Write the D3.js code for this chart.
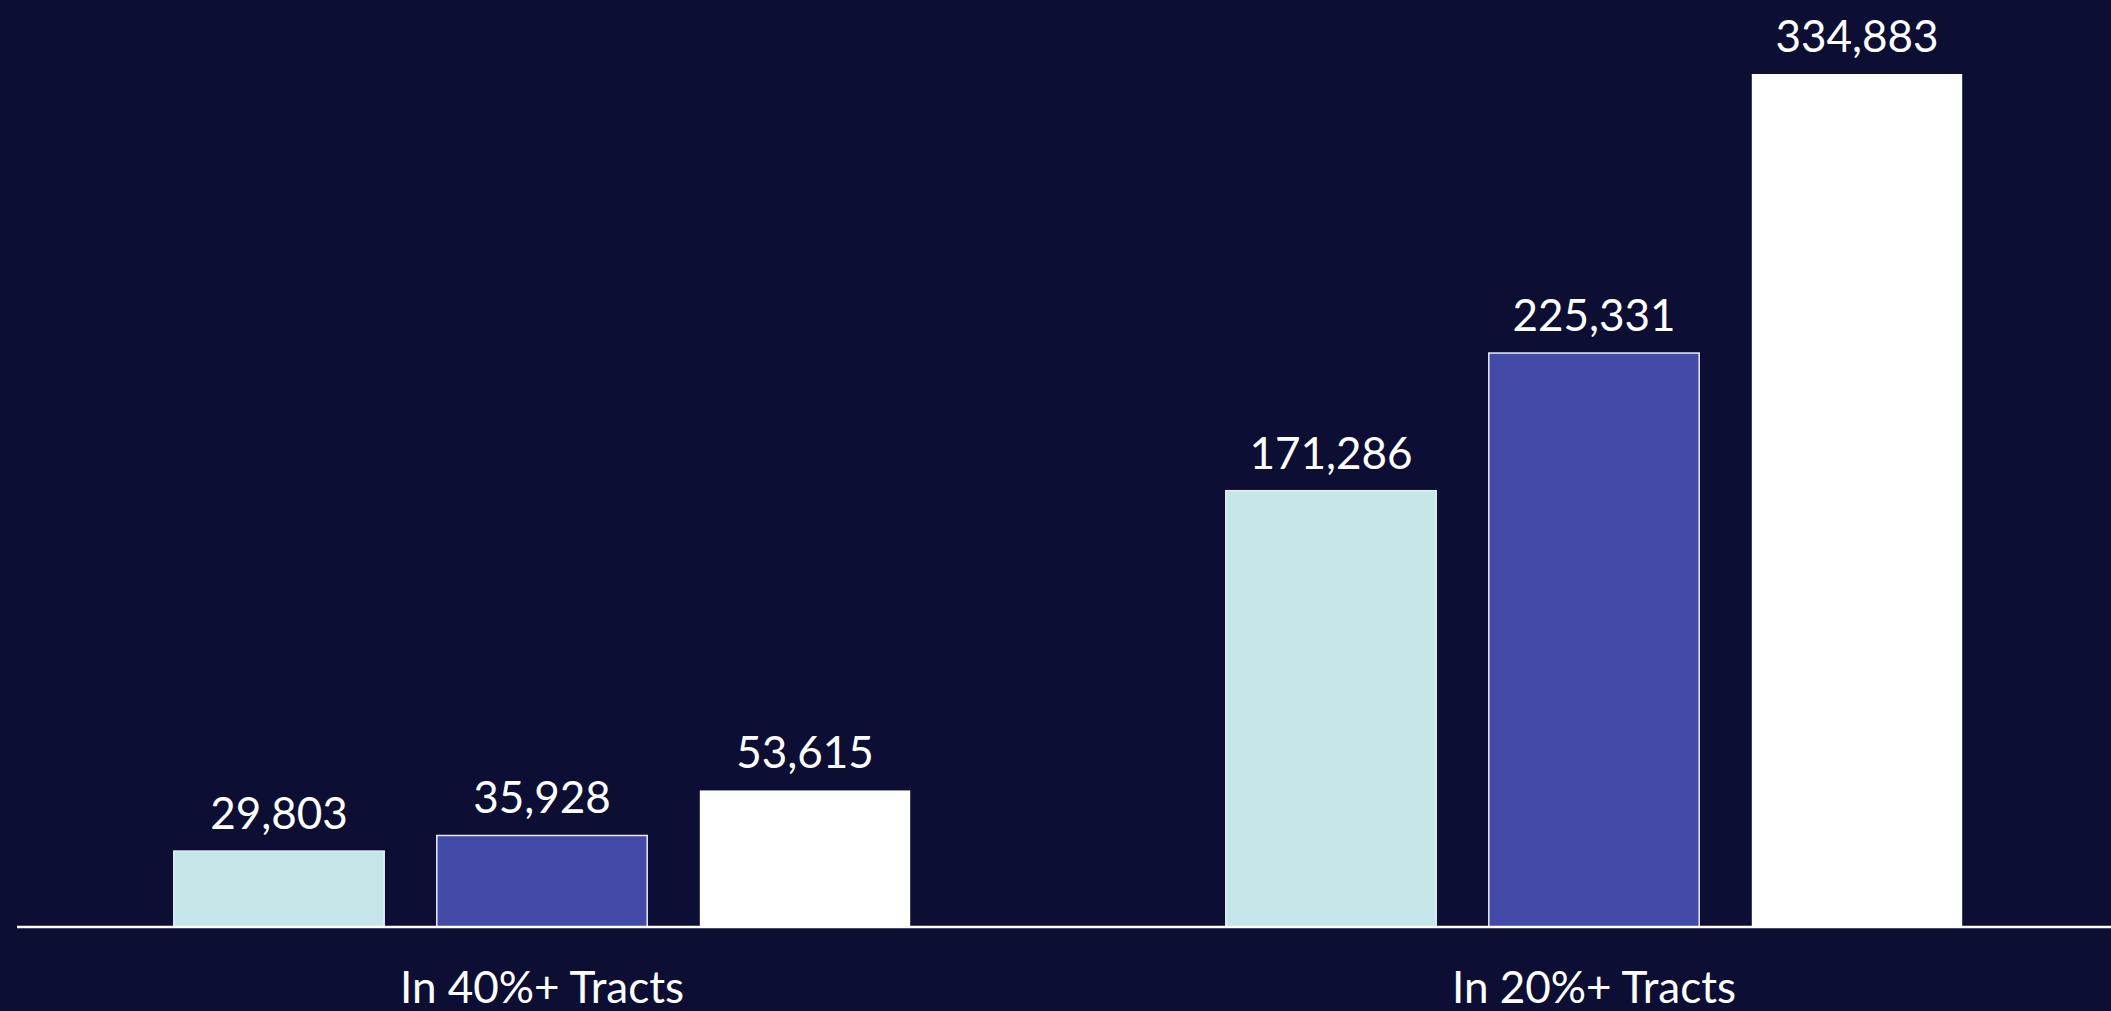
<!DOCTYPE html>
<html>
<head>
<meta charset="utf-8">
<script src="https://cdn.jsdelivr.net/npm/d3@7"></script>
<style>
  html, body { margin: 0; padding: 0; background: #0c0f33; overflow: hidden; }
  svg { display: block; }
</style>
</head>
<body>
<div id="chart"></div>
<script>
const categories = ['In 40%+ Tracts', 'In 20%+ Tracts']
const seriesKeys = ['first', 'second', 'third']
const firstValues = [29803, 171286]
const secondValues = [35928, 225331]
const thirdValues = [53615, 334883]
const seriesColors = ['#c4e6e8', '#434aa8', '#ffffff']

const width = 2111
const height = 1011
const baseline = 927

const values = [firstValues, secondValues, thirdValues]
const rows = categories.map((c, i) => ({
  category: c,
  bars: seriesKeys.map((k, j) => ({ key: k, value: values[j][i], color: seriesColors[j] }))
}))

const svg = d3.select('#chart').append('svg')
  .attr('width', width)
  .attr('height', height)

svg.append('rect')
  .attr('width', width)
  .attr('height', height)
  .attr('fill', '#0c0f33')

const x0 = d3.scaleBand()
  .domain(categories)
  .range([16, 2120])

const x1 = d3.scaleBand()
  .domain(seriesKeys)
  .range([0, x0.bandwidth()])
  .paddingInner(0.2)
  .paddingOuter(0.6)

const y = d3.scaleLinear()
  .domain([0, 334883])
  .range([baseline, 74])

const groups = svg.selectAll('.group')
  .data(rows)
  .enter()
  .append('g')
  .attr('class', 'group')
  .attr('transform', d => `translate(${x0(d.category)},0)`)

groups.selectAll('rect')
  .data(d => d.bars)
  .enter()
  .append('rect')
  .attr('x', d => x1(d.key))
  .attr('y', d => y(d.value))
  .attr('width', x1.bandwidth())
  .attr('height', d => baseline - y(d.value))
  .attr('fill', d => d.color)
  .attr('stroke', d => d.color === '#ffffff' ? 'none' : '#e6eef4')
  .attr('stroke-width', 1.5)

groups.selectAll('.valueLabel')
  .data(d => d.bars)
  .enter()
  .append('text')
  .attr('class', 'valueLabel')
  .attr('x', d => x1(d.key) + x1.bandwidth() / 2)
  .attr('y', d => y(d.value) - 22)
  .attr('text-anchor', 'middle')
  .attr('font-family', 'Lato, sans-serif')
  .attr('font-size', 44)
  .attr('fill', '#ffffff')
  .text(d => d3.format(',')(d.value))

// baseline, drawn as a bare axis with category names below
const axis = svg.append('g')
  .attr('transform', `translate(0,${baseline})`)
  .call(d3.axisBottom(x0).tickSize(0).tickPadding(76))

axis.select('.domain').remove()
axis.selectAll('text')
  .attr('dy', 0)
  .attr('font-family', 'Lato, sans-serif')
  .attr('font-size', 44)
  .attr('fill', '#ffffff')

svg.append('line')
  .attr('x1', 17)
  .attr('x2', width)
  .attr('y1', baseline)
  .attr('y2', baseline)
  .attr('stroke', '#ffffff')
  .attr('stroke-width', 2.5)
</script>
</body>
</html>
